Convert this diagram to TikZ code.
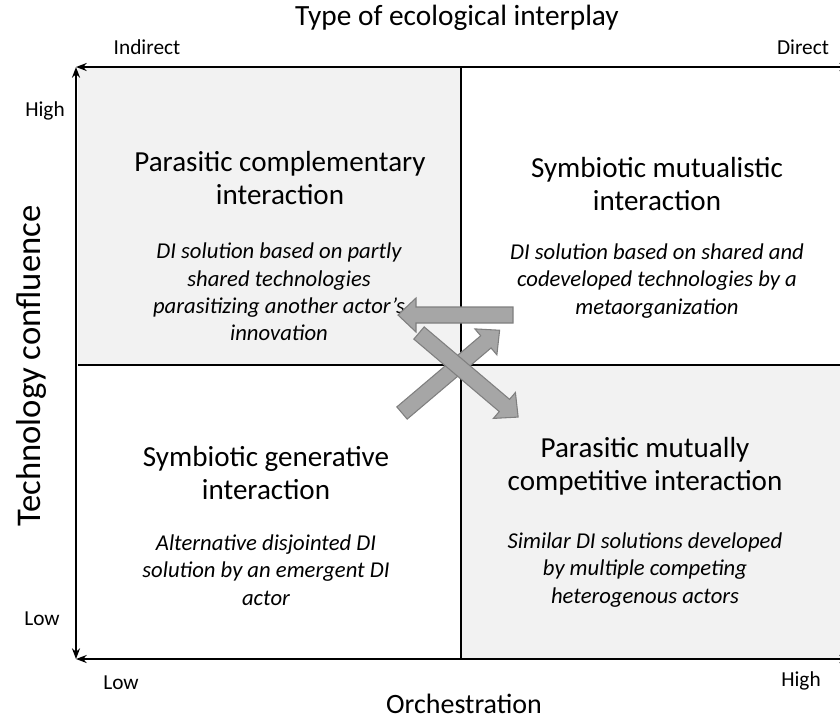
\documentclass[tikz,border=0pt]{standalone}
\usepackage{fontspec}
\setmainfont{Carlito}
\usetikzlibrary{arrows.meta}
\definecolor{quadfill}{HTML}{F2F2F2}
\definecolor{arrfill}{HTML}{A6A6A6}
\definecolor{arrline}{HTML}{7F7F7F}
\tikzset{
  axis/.style={line width=1.7pt, {Stealth[length=8pt,width=6pt]}-{Stealth[length=8pt,width=6pt]}},
  divider/.style={line width=1pt},
  heading/.style={align=center, font=\fontsize{21.8}{24.75}\selectfont, inner sep=0pt},
  desc/.style={align=center, font=\fontsize{17}{20.6}\selectfont\itshape, inner sep=0pt},
  small/.style={font=\fontsize{16}{18}\selectfont, inner sep=0pt},
  axtitle/.style={font=\fontsize{22}{24}\selectfont, inner sep=0pt},
  blockarrow/.style={fill=arrfill, draw=arrline, line width=0.8pt, line join=miter}
}
\newcommand{\blockarr}[4]{%
  \begin{scope}[shift={(#1,#2)}, rotate=#3]
    \draw[blockarrow] (0,-8) -- ({#4-18},-8) -- ({#4-18},-17) -- (#4,0) -- ({#4-18},17) -- ({#4-18},8) -- (0,8) -- cycle;
  \end{scope}}
\begin{document}
\begin{tikzpicture}[x=0.75pt,y=-0.75pt]
\useasboundingbox (0,0) rectangle (840,719);
\clip (0,0) rectangle (840,719);
% quadrant fills
\fill[quadfill] (78,68) rectangle (461,365);
\fill[quadfill] (461,365) rectangle (850,658);
% dividers
\draw[divider] (461,68) -- (461,658);
\draw[divider] (78,365) -- (850,365);
% axes
\coordinate (tl) at (76,67);
\coordinate (bl) at (76,659);
\coordinate (tr) at (850,67);
\coordinate (br) at (850,659);
\draw[axis] (bl) -- (tl);
\draw[axis] (tr) -- (tl);
\draw[axis] (br) -- (bl);
% titles and labels
\node[axtitle] (title) at (457,18) {Type of ecological interplay};
\node[small] (indirect) at (147,47) {Indirect};
\node[small] (direct) at (803,47) {Direct};
\node[small] (hiY) at (45,111) {High};
\node[small] (loY) at (42,619) {Low};
\node[axtitle, font=\fontsize{26}{28}\selectfont, rotate=90] (ytitle) at (31,366) {Technology confluence};
\node[small] (loX) at (121,683) {Low};
\node[small] (hiX) at (801,681) {High};
\node[axtitle, font=\fontsize{21}{23}\selectfont] (xtitle) at (464,704) {Orchestration};
% quadrant texts
\node[heading] (h1) at (280,178) {Parasitic complementary\\interaction};
\node[desc] (d1) at (279,292) {DI solution based on partly\\shared technologies\\parasitizing another actor’s\\innovation};
\node[heading] (h2) at (657,184) {Symbiotic mutualistic\\interaction};
\node[desc] (d2) at (657,281) {DI solution based on shared and\\codeveloped technologies by a\\metaorganization};
\node[heading] (h3) at (266,473) {Symbiotic generative\\interaction};
\node[desc] (d3) at (266,570) {Alternative disjointed DI\\solution by an emergent DI\\actor};
\node[heading] (h4) at (645,466) {Parasitic mutually\\competitive interaction};
\node[desc] (d4) at (645,570) {Similar DI solutions developed\\by multiple competing\\heterogenous actors};
% block arrows
\blockarr{513}{315}{180}{115}
\blockarr{402}{413}{40.3}{128}
\blockarr{419}{333}{-40.3}{130}
\end{tikzpicture}
\end{document}
